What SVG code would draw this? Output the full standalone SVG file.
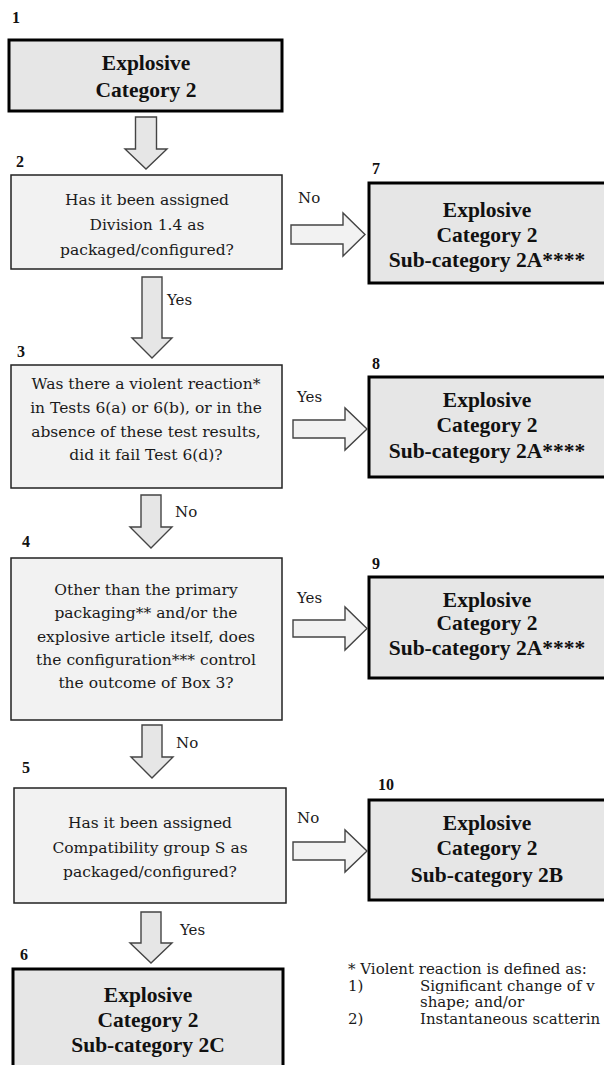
<svg xmlns="http://www.w3.org/2000/svg" width="604" height="1065" viewBox="0 0 604 1065">
<style>
.bg{fill:#ffffff}
.res{fill:#e6e6e6;stroke:#000;stroke-width:3}
.q{fill:#f2f2f2;stroke:#222;stroke-width:1.5}
.arr{fill:#e6e6e6;stroke:#444;stroke-width:1.4;stroke-linejoin:miter}
.arrR{fill:#f2f2f2;stroke:#444;stroke-width:1.4;stroke-linejoin:miter}
.num{font-family:"Liberation Serif","Times New Roman",serif;font-weight:bold;font-size:16px;fill:#111}
.b{font-family:"Liberation Serif","Times New Roman",serif;font-weight:bold;font-size:21.5px;fill:#111;text-anchor:middle}
.t{font-family:"DejaVu Serif","Liberation Serif",serif;font-size:15.5px;fill:#1a1a1a;text-anchor:middle}
.lab{font-family:"DejaVu Serif","Liberation Serif",serif;font-size:15px;fill:#1a1a1a}
.fn{font-family:"DejaVu Serif","Liberation Serif",serif;font-size:15px;fill:#1a1a1a}
</style>
<rect class="bg" x="0" y="0" width="604" height="1065"/>

<g id="node1">
<text class="num" x="12" y="23">1</text>
<rect class="res" x="9" y="40" width="273" height="71"/>
<text class="b" x="146" y="70">Explosive</text>
<text class="b" x="146" y="97">Category 2</text>
</g>

<g id="node2">
<text class="num" x="16" y="167">2</text>
<rect class="q" x="11" y="175" width="271" height="94"/>
<text class="t" x="147" y="205">Has it been assigned</text>
<text class="t" x="147" y="230">Division 1.4 as</text>
<text class="t" x="147" y="255">packaged/configured?</text>
</g>

<g id="node3">
<text class="num" x="17" y="357">3</text>
<rect class="q" x="11" y="365" width="271" height="123"/>
<text class="t" x="146" y="389">Was there a violent reaction*</text>
<text class="t" x="146" y="413">in Tests 6(a) or 6(b), or in the</text>
<text class="t" x="146" y="437">absence of these test results,</text>
<text class="t" x="146" y="460">did it fail Test 6(d)?</text>
</g>

<g id="node4">
<text class="num" x="22" y="547">4</text>
<rect class="q" x="11" y="558" width="271" height="162"/>
<text class="t" x="146" y="595">Other than the primary</text>
<text class="t" x="146" y="618">packaging** and/or the</text>
<text class="t" x="146" y="642">explosive article itself, does</text>
<text class="t" x="146" y="665">the configuration*** control</text>
<text class="t" x="146" y="688">the outcome of Box 3?</text>
</g>

<g id="node5">
<text class="num" x="22" y="773">5</text>
<rect class="q" x="14" y="788" width="272" height="115"/>
<text class="t" x="150" y="828">Has it been assigned</text>
<text class="t" x="150" y="853">Compatibility group S as</text>
<text class="t" x="150" y="877">packaged/configured?</text>
</g>

<g id="node6">
<text class="num" x="20" y="960">6</text>
<rect class="res" x="13" y="969" width="270" height="110"/>
<text class="b" x="148" y="1002">Explosive</text>
<text class="b" x="148" y="1027">Category 2</text>
<text class="b" x="148" y="1052">Sub-category 2C</text>
</g>

<g id="node7">
<text class="num" x="372" y="174">7</text>
<rect class="res" x="369" y="183" width="240" height="100"/>
<text class="b" x="487" y="217">Explosive</text>
<text class="b" x="487" y="242">Category 2</text>
<text class="b" x="487" y="267">Sub-category 2A****</text>
</g>

<g id="node8">
<text class="num" x="372" y="369">8</text>
<rect class="res" x="369" y="377" width="240" height="100"/>
<text class="b" x="487" y="407">Explosive</text>
<text class="b" x="487" y="432">Category 2</text>
<text class="b" x="487" y="458">Sub-category 2A****</text>
</g>

<g id="node9">
<text class="num" x="372" y="569">9</text>
<rect class="res" x="369" y="577" width="240" height="101"/>
<text class="b" x="487" y="607">Explosive</text>
<text class="b" x="487" y="630">Category 2</text>
<text class="b" x="487" y="655">Sub-category 2A****</text>
</g>

<g id="node10">
<text class="num" x="378" y="790">10</text>
<rect class="res" x="369" y="800" width="240" height="100"/>
<text class="b" x="487" y="830">Explosive</text>
<text class="b" x="487" y="855">Category 2</text>
<text class="b" x="487" y="882">Sub-category 2B</text>
</g>

<g id="connectors">
<polygon class="arr" points="135.5,117 156.5,117 156.5,149 167,149 146,169 125,149 135.5,149"/>
<polygon class="arr" points="142,277 162,277 162,338 172,338 152,358 132,338 142,338"/>
<text class="lab" x="167" y="305">Yes</text>
<polygon class="arr" points="141,495 161,495 161,527 172,527 151,548 130,527 141,527"/>
<text class="lab" x="175" y="517">No</text>
<polygon class="arr" points="142,725 162,725 162,757 173,757 152,778 131,757 142,757"/>
<text class="lab" x="176" y="748">No</text>
<polygon class="arr" points="141,912 161,912 161,943 172,943 151,963 130,943 141,943"/>
<text class="lab" x="180" y="935">Yes</text>

<polygon class="arrR" points="291,225 343,225 343,213 365,234.5 343,256 343,244 291,244"/>
<text class="lab" x="298" y="203">No</text>
<polygon class="arrR" points="293,420 345,420 345,408 367,429 345,450 345,438 293,438"/>
<text class="lab" x="297" y="402">Yes</text>
<polygon class="arrR" points="293,620 345,620 345,607 367,628.5 345,650 345,637 293,637"/>
<text class="lab" x="297" y="603">Yes</text>
<polygon class="arrR" points="293,842 345,842 345,830 367,851 345,872 345,860 293,860"/>
<text class="lab" x="297" y="823">No</text>
</g>

<g id="footnote">
<text class="fn" x="348" y="974">* Violent reaction is defined as:</text>
<text class="fn" x="348" y="991">1)</text>
<text class="fn" x="420" y="991">Significant change of v</text>
<text class="fn" x="420" y="1007">shape; and/or</text>
<text class="fn" x="348" y="1024">2)</text>
<text class="fn" x="420" y="1024">Instantaneous scatterin</text>
</g>
</svg>
